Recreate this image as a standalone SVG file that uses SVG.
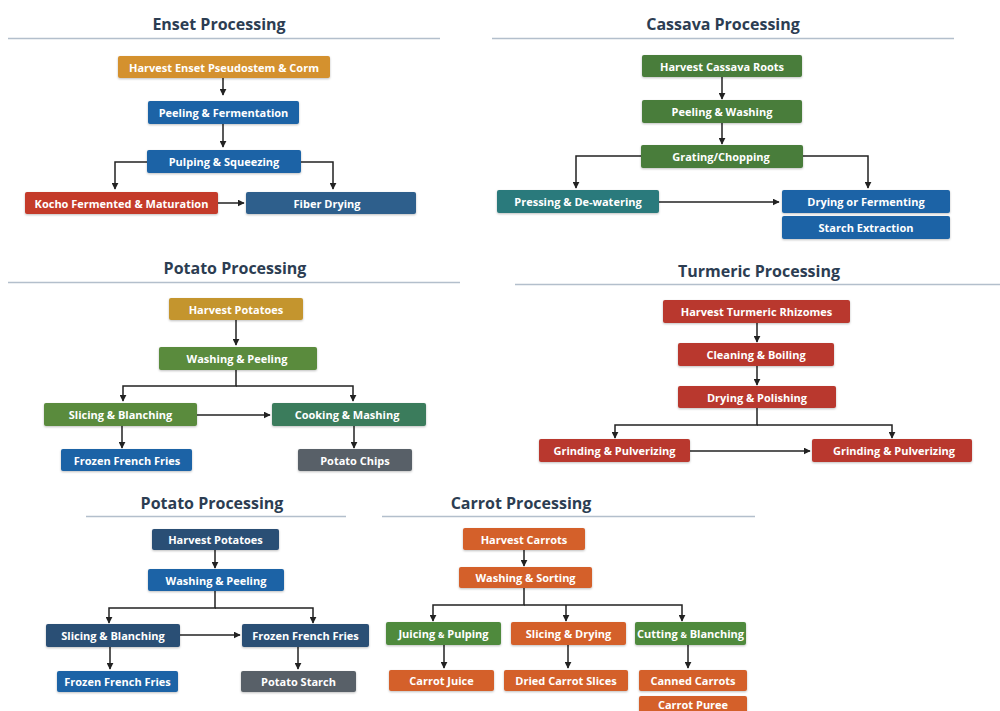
<svg xmlns="http://www.w3.org/2000/svg" width="1000" height="711" viewBox="0 0 1000 711">
<defs>
<style>
.t{font-family:"Open Sans","Noto Sans","Liberation Sans",sans-serif;font-weight:700;font-size:16px;fill:#2c3d52;text-anchor:middle}
.rule{stroke:#b3bfcc;stroke-width:1.3}
.n text{font-family:"Open Sans","Noto Sans","Liberation Sans",sans-serif;font-weight:700;font-size:11px;fill:#fff;text-anchor:middle;dominant-baseline:central}
.n rect{rx:2;filter:url(#sh)}
.c path{fill:none;stroke:#222;stroke-width:1.5;marker-end:url(#ah)}
.gold{fill:#d4912f}.gold2{fill:#c4952e}.blue{fill:#1a64a6}.red{fill:#c43b2c}.steel{fill:#2f5f8c}
.green{fill:#4a7d3b}.lgreen{fill:#5a8b3c}.teal{fill:#2b7a7c}.tgreen{fill:#3b7c5b}.gray{fill:#596167}
.tred{fill:#b9392d}.navy{fill:#2b4f75}.orange{fill:#d4602a}.cgreen{fill:#4f8a3d}
</style>
<marker id="ah" viewBox="0 0 10 10" refX="9" refY="5" markerWidth="7" markerHeight="7" markerUnits="userSpaceOnUse" orient="auto"><path d="M0,0L10,5L0,10z" fill="#222"/></marker>
<filter id="sh" x="-10%" y="-20%" width="120%" height="160%"><feDropShadow dx="0" dy="1" stdDeviation="1" flood-color="#000" flood-opacity="0.25"/></filter>
</defs>
<rect width="1000" height="711" fill="#fff"/>

<g id="titles">
<text class="t" x="219" y="30">Enset Processing</text>
<line class="rule" x1="8" y1="38.5" x2="440" y2="38.5"/>
<text class="t" x="723" y="30">Cassava Processing</text>
<line class="rule" x1="492" y1="38.5" x2="954" y2="38.5"/>
<text class="t" x="235" y="274">Potato Processing</text>
<line class="rule" x1="8" y1="282.5" x2="460" y2="282.5"/>
<text class="t" x="759" y="277">Turmeric Processing</text>
<line class="rule" x1="515" y1="284.5" x2="1000" y2="284.5"/>
<text class="t" x="212" y="509">Potato Processing</text>
<line class="rule" x1="86" y1="516.5" x2="346" y2="516.5"/>
<text class="t" x="521" y="509">Carrot Processing</text>
<line class="rule" x1="382" y1="516.5" x2="755" y2="516.5"/>
</g>

<g id="connectors" class="c">
<path d="M223,78V95"/>
<path d="M223,124V147"/>
<path d="M147,162H115V189"/>
<path d="M301,162H333V189"/>
<path d="M218,203H244"/>
<path d="M722,77V99"/>
<path d="M722,123V144"/>
<path d="M641,156H576V188"/>
<path d="M803,156H868V188"/>
<path d="M659,202H779"/>
<path d="M236,320V345"/>
<path d="M236,370V386H123V401"/>
<path d="M236,386H353V401"/>
<path d="M197,415H270"/>
<path d="M122,426V448"/>
<path d="M354,426V448"/>
<path d="M757,323V342"/>
<path d="M757,366V385"/>
<path d="M757,408V425H615V438"/>
<path d="M757,425H892V438"/>
<path d="M690,451H810"/>
<path d="M215,550V568"/>
<path d="M215,591V608H109V623"/>
<path d="M215,608H313V623"/>
<path d="M180,635H240"/>
<path d="M110,647V669"/>
<path d="M298,647V669"/>
<path d="M524,550V566"/>
<path d="M524,588V605H433V621"/>
<path d="M524,605H682V621"/>
<path d="M566,605V621"/>
<path d="M444,645V668"/>
<path d="M568,645V668"/>
<path d="M688,645V668"/>
</g>

<g id="enset-harvest" class="n"><rect class="gold" x="118" y="56" width="212" height="22"/><text x="224" y="67">Harvest Enset Pseudostem &amp; Corm</text></g>
<g id="enset-peeling" class="n"><rect class="blue" x="148" y="101" width="151" height="23"/><text x="223.5" y="112.5">Peeling &amp; Fermentation</text></g>
<g id="enset-pulping" class="n"><rect class="blue" x="147" y="150" width="154" height="23"/><text x="224" y="161.5">Pulping &amp; Squeezing</text></g>
<g id="enset-kocho" class="n"><rect class="red" x="25" y="192" width="193" height="22"/><text x="121.5" y="203">Kocho Fermented &amp; Maturation</text></g>
<g id="enset-fiber" class="n"><rect class="steel" x="246" y="192" width="170" height="22"/><text x="327" y="203">Fiber Drying</text></g>

<g id="cassava-harvest" class="n"><rect class="green" x="642" y="55" width="160" height="22"/><text x="722" y="66">Harvest Cassava Roots</text></g>
<g id="cassava-peeling" class="n"><rect class="green" x="642" y="100" width="160" height="23"/><text x="722" y="111.5">Peeling &amp; Washing</text></g>
<g id="cassava-grating" class="n"><rect class="green" x="641" y="145" width="162" height="23"/><text x="721" y="156.5">Grating/Chopping</text></g>
<g id="cassava-pressing" class="n"><rect class="teal" x="497" y="190" width="162" height="23"/><text x="578" y="201.5">Pressing &amp; De-watering</text></g>
<g id="cassava-drying" class="n"><rect class="blue" x="782" y="190" width="168" height="23"/><text x="866" y="201.5">Drying or Fermenting</text></g>
<g id="cassava-starch" class="n"><rect class="blue" x="782" y="216" width="168" height="23"/><text x="866" y="227.5">Starch Extraction</text></g>

<g id="potato-harvest" class="n"><rect class="gold2" x="169" y="298" width="134" height="22"/><text x="236" y="309">Harvest Potatoes</text></g>
<g id="potato-washing" class="n"><rect class="lgreen" x="159" y="347" width="158" height="23"/><text x="237" y="358.5">Washing &amp; Peeling</text></g>
<g id="potato-slicing" class="n"><rect class="lgreen" x="44" y="403" width="153" height="23"/><text x="120.5" y="414.5">Slicing &amp; Blanching</text></g>
<g id="potato-cooking" class="n"><rect class="tgreen" x="272" y="403" width="154" height="23"/><text x="347" y="414.5">Cooking &amp; Mashing</text></g>
<g id="potato-fries" class="n"><rect class="blue" x="61" y="449" width="131" height="22"/><text x="127" y="460">Frozen French Fries</text></g>
<g id="potato-chips" class="n"><rect class="gray" x="298" y="449" width="114" height="22"/><text x="355" y="460">Potato Chips</text></g>

<g id="turmeric-harvest" class="n"><rect class="tred" x="663" y="300" width="187" height="23"/><text x="756.5" y="311.5">Harvest Turmeric Rhizomes</text></g>
<g id="turmeric-cleaning" class="n"><rect class="tred" x="678" y="343" width="156" height="23"/><text x="756" y="354.5">Cleaning &amp; Boiling</text></g>
<g id="turmeric-drying" class="n"><rect class="tred" x="678" y="386" width="158" height="22"/><text x="757" y="397">Drying &amp; Polishing</text></g>
<g id="turmeric-grind1" class="n"><rect class="tred" x="539" y="439" width="151" height="23"/><text x="614.5" y="450.5">Grinding &amp; Pulverizing</text></g>
<g id="turmeric-grind2" class="n"><rect class="tred" x="812" y="439" width="160" height="23"/><text x="894" y="450.5">Grinding &amp; Pulverizing</text></g>

<g id="potato2-harvest" class="n"><rect class="navy" x="152" y="529" width="127" height="21"/><text x="215.5" y="539.5">Harvest Potatoes</text></g>
<g id="potato2-washing" class="n"><rect class="blue" x="148" y="569" width="136" height="22"/><text x="216" y="580">Washing &amp; Peeling</text></g>
<g id="potato2-slicing" class="n"><rect class="navy" x="46" y="624" width="134" height="23"/><text x="113" y="635.5">Slicing &amp; Blanching</text></g>
<g id="potato2-frozen" class="n"><rect class="navy" x="242" y="624" width="127" height="23"/><text x="305.5" y="635.5">Frozen French Fries</text></g>
<g id="potato2-fries" class="n"><rect class="blue" x="57" y="671" width="121" height="21"/><text x="117.5" y="681.5">Frozen French Fries</text></g>
<g id="potato2-starch" class="n"><rect class="gray" x="241" y="671" width="115" height="21"/><text x="298.5" y="681.5">Potato Starch</text></g>

<g id="carrot-harvest" class="n"><rect class="orange" x="463" y="528" width="122" height="22"/><text x="524" y="539">Harvest Carrots</text></g>
<g id="carrot-washing" class="n"><rect class="orange" x="459" y="567" width="133" height="21"/><text x="525.5" y="577.5">Washing &amp; Sorting</text></g>
<g id="carrot-juicing" class="n"><rect class="cgreen" x="386" y="622" width="115" height="23"/><text x="443.5" y="633.5">Juicing <tspan font-size="8.5">&amp;</tspan> Pulping</text></g>
<g id="carrot-slicing" class="n"><rect class="orange" x="511" y="622" width="115" height="23"/><text x="568.5" y="633.5">Slicing &amp; Drying</text></g>
<g id="carrot-cutting" class="n"><rect class="cgreen" x="635" y="622" width="111" height="23"/><text x="690.5" y="633.5">Cutting <tspan font-size="8.5">&amp;</tspan> Blanching</text></g>
<g id="carrot-juice" class="n"><rect class="orange" x="389" y="670" width="105" height="21"/><text x="441.5" y="680.5">Carrot Juice</text></g>
<g id="carrot-dried" class="n"><rect class="orange" x="504" y="670" width="124" height="21"/><text x="566" y="680.5">Dried Carrot Slices</text></g>
<g id="carrot-canned" class="n"><rect class="orange" x="639" y="670" width="108" height="21"/><text x="693" y="680.5">Canned Carrots</text></g>
<g id="carrot-puree" class="n"><rect class="orange" x="639" y="696" width="108" height="20"/><text x="693" y="704">Carrot Puree</text></g>
</svg>
